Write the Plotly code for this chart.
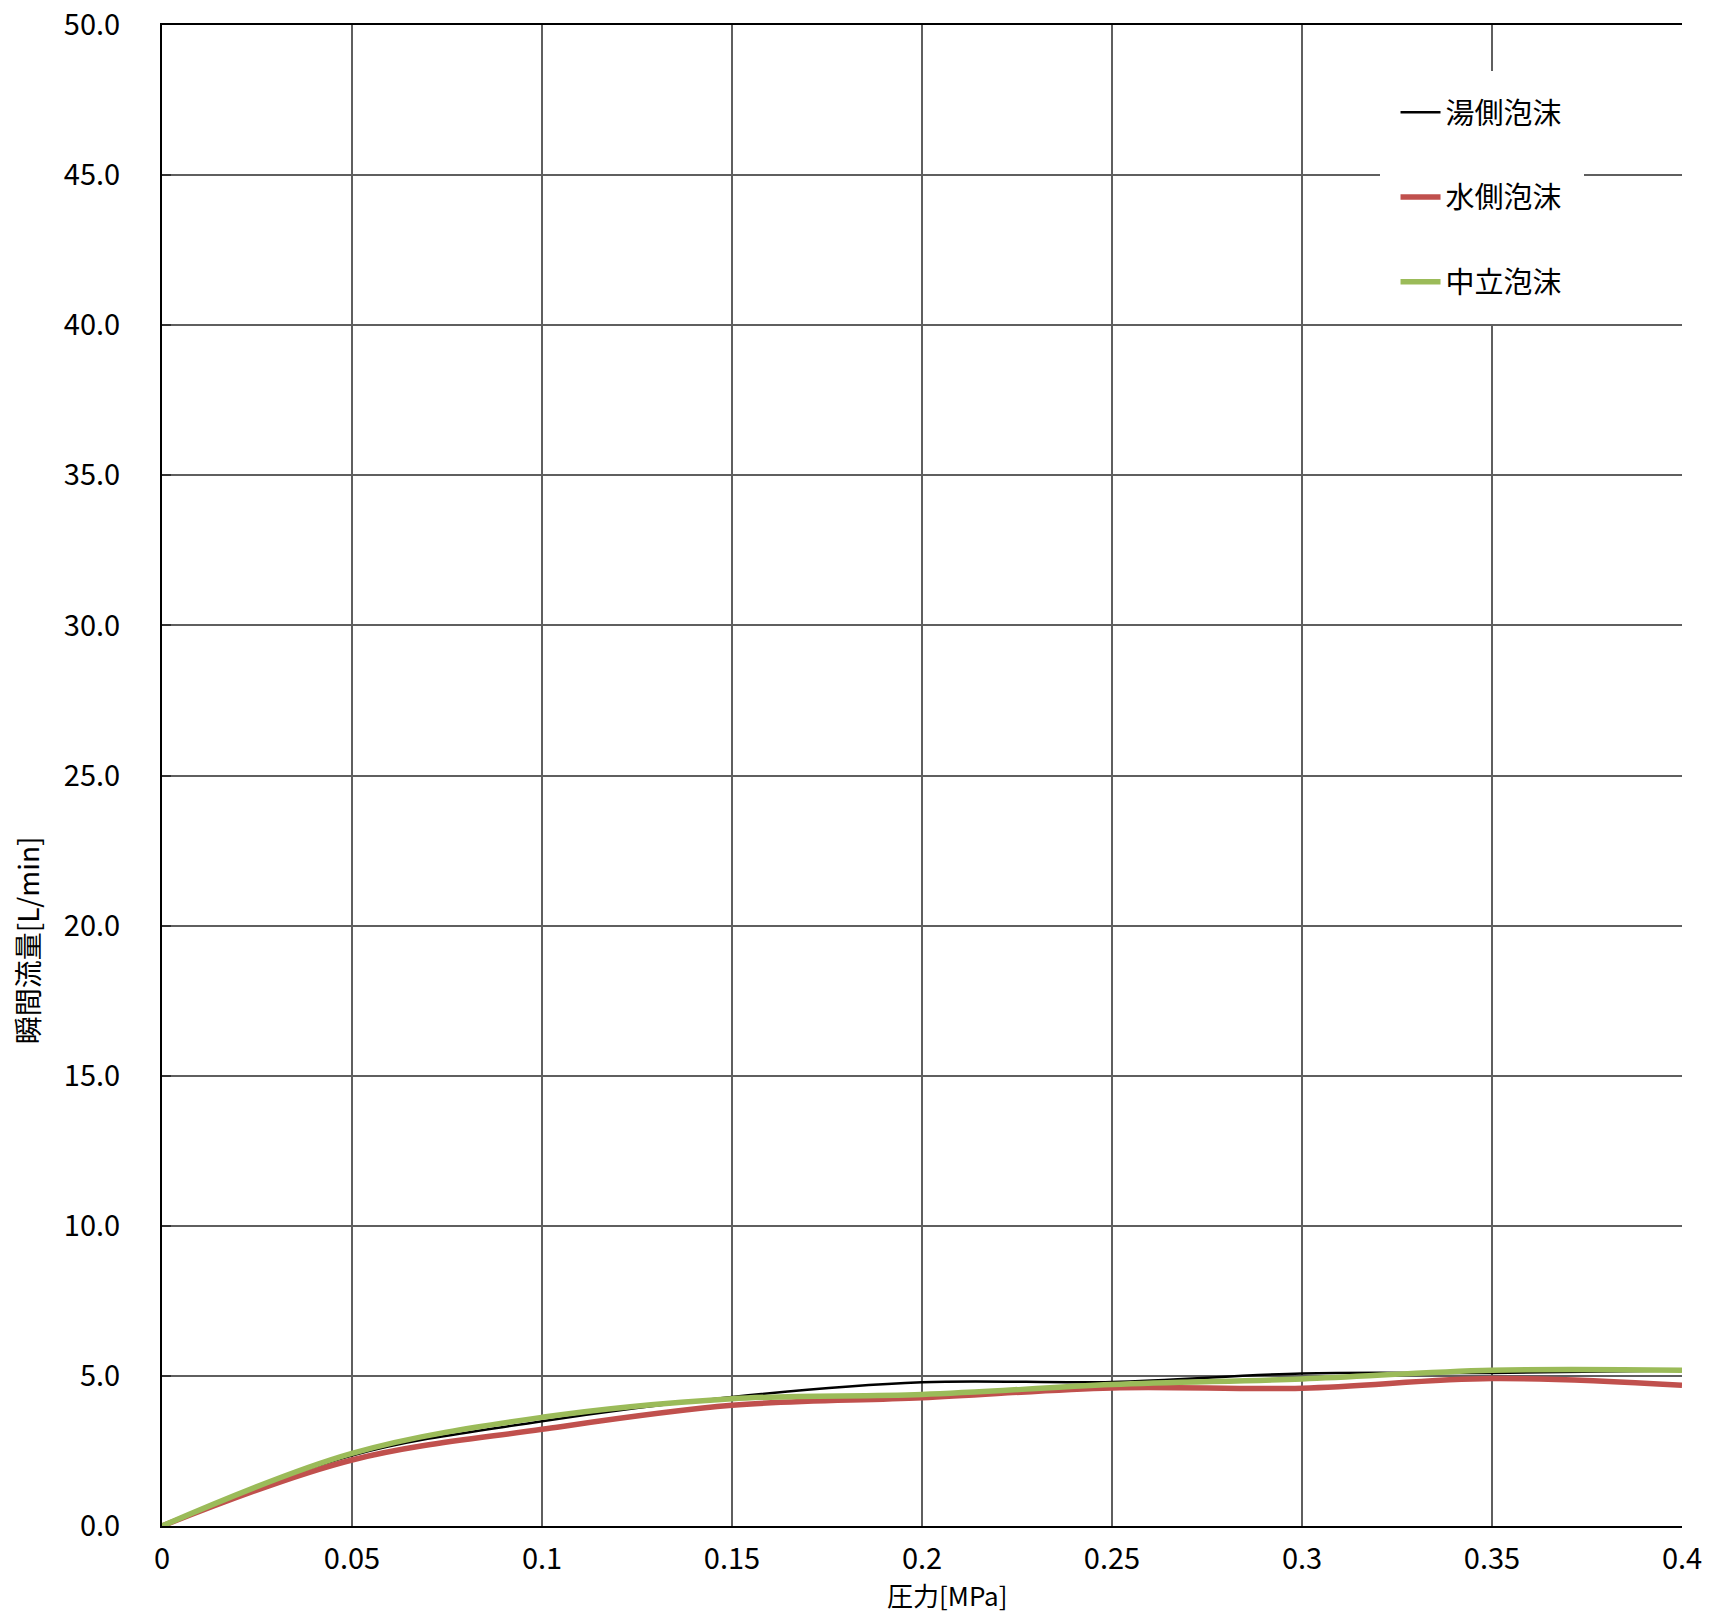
import plotly.graph_objects as go

# Data
pressure = [0.0, 0.05, 0.1, 0.15, 0.2, 0.25, 0.3, 0.35, 0.4]
hot_side = [0.0, 2.35, 3.49, 4.30, 4.79, 4.80, 5.08, 5.10, 5.18]
cold_side = [0.0, 2.20, 3.22, 4.02, 4.27, 4.60, 4.59, 4.91, 4.69]
neutral = [0.0, 2.42, 3.62, 4.24, 4.38, 4.71, 4.90, 5.19, 5.19]
series_names = ["湯側泡沫", "水側泡沫", "中立泡沫"]

x_ticks = [0.0, 0.05, 0.1, 0.15, 0.2, 0.25, 0.3, 0.35, 0.4]
x_ticktext = ["0", "0.05", "0.1", "0.15", "0.2", "0.25", "0.3", "0.35", "0.4"]
y_ticks = [0, 5, 10, 15, 20, 25, 30, 35, 40, 45, 50]
y_ticktext = ["0.0", "5.0", "10.0", "15.0", "20.0", "25.0", "30.0", "35.0", "40.0", "45.0", "50.0"]

FONT = "Noto Sans CJK JP"

fig = go.Figure()
styles = [("#000000", 2.5), ("#C0504D", 5.5), ("#9BBB59", 5.5)]
for name, ys, (col, w) in zip(series_names, [hot_side, cold_side, neutral], styles):
    fig.add_trace(go.Scatter(
        x=pressure, y=ys, name=name, mode="lines",
        line=dict(color=col, width=w, shape="spline", smoothing=1.0),
        legendgroup=name,
    ))

grid_col = "#5f5f5f"
fig.update_layout(
    width=1699, height=1606,
    margin=dict(l=154, r=25, t=17, b=88, autoexpand=False),
    paper_bgcolor="white", plot_bgcolor="white",
    font=dict(family=FONT, color="#000000", size=26),
    showlegend=True,
    legend=dict(
        x=0.801, y=0.9694, xanchor="left", yanchor="top",
        bgcolor="white", bordercolor="white", borderwidth=16,
        font=dict(family=FONT, size=29, color="#000000"),
        tracegroupgap=44,
        itemwidth=40,
    ),
    xaxis=dict(
        range=[0, 0.4], tickvals=x_ticks, ticktext=x_ticktext,
        showgrid=True, gridcolor=grid_col, gridwidth=1.5,
        showline=True, linecolor="#000000", linewidth=2, mirror=True,
        ticks="", zeroline=False, automargin=False,
        tickfont=dict(family=FONT, size=29),
        ticklabelstandoff=6, ticklabeloverflow="allow",
    ),
    yaxis=dict(
        range=[0, 50], tickvals=y_ticks, ticktext=y_ticktext,
        showgrid=True, gridcolor=grid_col, gridwidth=1.5,
        showline=True, linecolor="#000000", linewidth=2,
        ticks="inside", ticklen=9, tickcolor="#333333", tickwidth=2,
        zeroline=False, automargin=False,
        tickfont=dict(family=FONT, size=29),
        ticklabelstandoff=34, ticklabeloverflow="allow",
    ),
    annotations=[
        dict(
            text="瞬間流量[L/min]", textangle=-90,
            xref="paper", yref="paper", x=-0.089, y=0.39,
            xanchor="center", yanchor="middle", showarrow=False,
            font=dict(family=FONT, size=28, color="#000000"),
        ),
        dict(
            text="圧力[MPa]",
            xref="paper", yref="paper", x=0.517, y=-0.0586,
            xanchor="center", yanchor="bottom", showarrow=False,
            font=dict(family=FONT, size=26, color="#000000"),
            borderpad=0,
        ),
    ],
)

fig.write_html("out.html")
